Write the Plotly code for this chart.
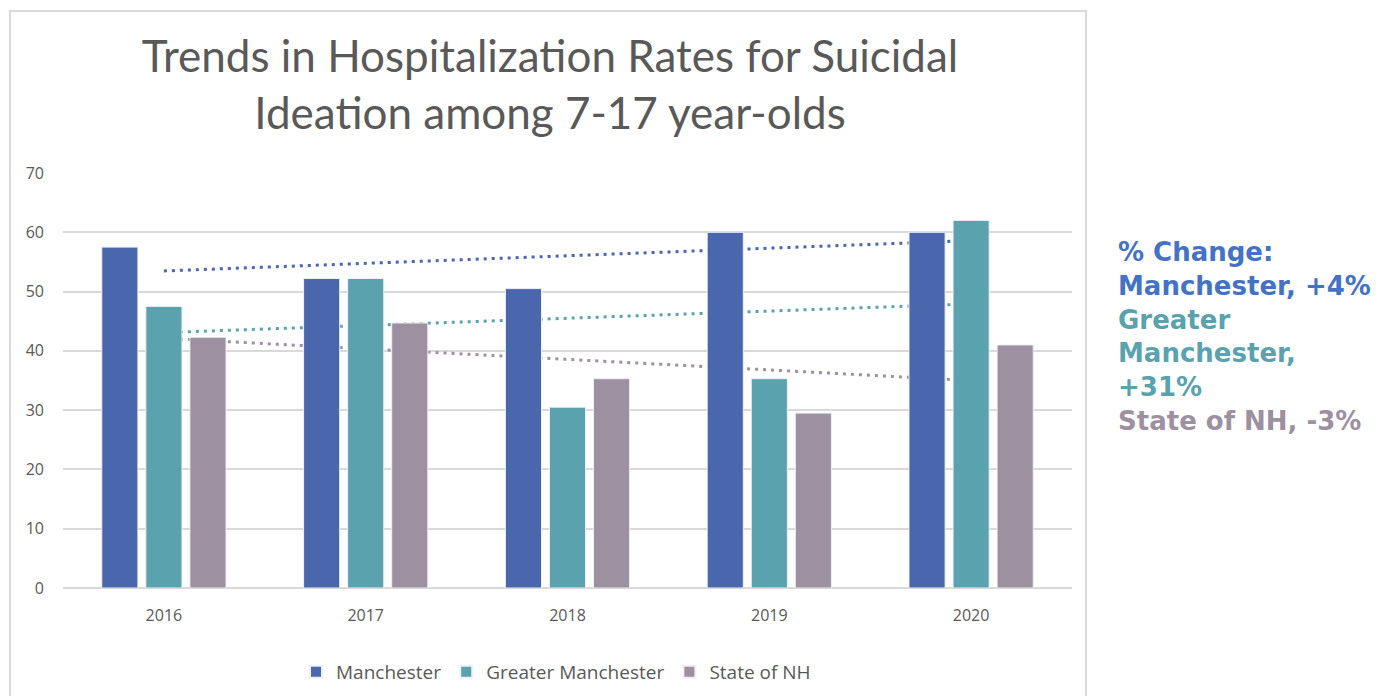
import numpy as np
import plotly.graph_objects as go

# ---------------------------------------------------------------------------
# Data
# ---------------------------------------------------------------------------
years = ["2016", "2017", "2018", "2019", "2020"]
manchester = [57.5, 52.2, 50.5, 60.0, 60.0]
greater_manchester = [47.5, 52.2, 30.5, 35.3, 62.0]
state_nh = [42.3, 44.7, 35.3, 29.5, 41.0]

series_names = ["Manchester", "Greater Manchester", "State of NH"]
y_ticks = [0, 10, 20, 30, 40, 50, 60, 70]

COLORS = {
    "manchester": "#4A66AC",
    "greater": "#5AA2AE",
    "nh": "#9D90A0",
    "text_blue": "#4472C4",
    "grid": "#D9D9D9",
    "label": "#595959",
}

# page body adds an 8px offset, so layout numbers below are screen px - 8
OFF = 8
W, H = 1381, 696
L, T = 63 - OFF, 173 - OFF
R, B = W - (1072 - OFF), H - (588 - OFF)
pw = W - L - R
ph = H - T - B


def px_x(sx):
    return (sx - OFF - L) / pw


def px_y(sy):
    return (H - B - (sy - OFF)) / ph


def trend(values):
    """Linear trendline like Excel's, evaluated at each category."""
    xs = np.arange(len(values))
    slope, icpt = np.polyfit(xs, values, 1)
    return list(slope * xs + icpt)


fig = go.Figure()

# trendlines live on the base x axis so the bars (on the overlaying axis) sit on top
for vals, key in [(manchester, "manchester"), (greater_manchester, "greater"), (state_nh, "nh")]:
    fig.add_trace(go.Scatter(
        x=years, y=trend(vals), mode="lines",
        line=dict(color=COLORS[key], width=3, dash="3px,5px"),
        showlegend=False, hoverinfo="skip", xaxis="x", yaxis="y",
    ))

for name, vals, key in zip(series_names, [manchester, greater_manchester, state_nh],
                           ["manchester", "greater", "nh"]):
    fig.add_trace(go.Bar(
        name=name, x=years, y=vals, xaxis="x2", yaxis="y",
        marker=dict(color=COLORS[key], line=dict(color="#EEF0F6", width=1)),
    ))

# Excel-style chart frame
fig.add_shape(type="rect", xref="paper", yref="paper",
              x0=px_x(10), x1=px_x(1086), y0=px_y(720), y1=px_y(11),
              line=dict(color="#D9D9D9", width=2), layer="below")

note = (
    f"<span style='color:{COLORS['text_blue']}'>% Change:<br>Manchester, +4%</span><br>"
    f"<span style='color:{COLORS['greater']}'>Greater<br>Manchester,<br>+31%</span><br>"
    f"<span style='color:{COLORS['nh']}'>State of NH, -3%</span>"
)
fig.add_annotation(
    text=note, xref="paper", yref="paper", x=px_x(1116), y=px_y(336),
    xanchor="left", yanchor="middle", align="left", showarrow=False,
    font=dict(family="DejaVu Sans", size=26, color=COLORS["text_blue"], weight="bold"),
)

cat_range = [-0.5, len(years) - 0.5]

fig.update_layout(
    width=W, height=H,
    paper_bgcolor="white", plot_bgcolor="white",
    margin=dict(l=L, r=R, t=T, b=B),
    title=dict(
        text="Trends in Hospitalization Rates for Suicidal<br>Ideation among 7-17 year-olds",
        xref="paper", x=px_x(550), xanchor="center",
        yref="container", y=1 - (72 - OFF) / H, yanchor="middle",
        font=dict(family="Lato", size=44, color=COLORS["label"]),
    ),
    barmode="group", bargap=0.345, bargroupgap=0.18,
    xaxis=dict(type="category", categoryarray=years, range=cat_range, showgrid=False,
               tickfont=dict(family="Open Sans", size=16, color=COLORS["label"]),
               ticks="", ticklabelstandoff=16, showline=False),
    xaxis2=dict(type="category", categoryarray=years, range=cat_range,
                overlaying="x", visible=False),
    yaxis=dict(range=[0, 70], tickvals=y_ticks, gridcolor=COLORS["grid"], gridwidth=1.5,
               zeroline=True, zerolinecolor=COLORS["grid"], zerolinewidth=1.5,
               tickfont=dict(family="Open Sans", size=16, color=COLORS["label"]),
               ticklabelstandoff=18),
    legend=dict(orientation="h", xanchor="center", x=px_x(556),
                yanchor="middle", y=px_y(672),
                font=dict(family="Open Sans", size=19, color=COLORS["label"]),
                itemsizing="constant", bgcolor="rgba(0,0,0,0)"),
    showlegend=True,
)

fig.write_html("out.html")
